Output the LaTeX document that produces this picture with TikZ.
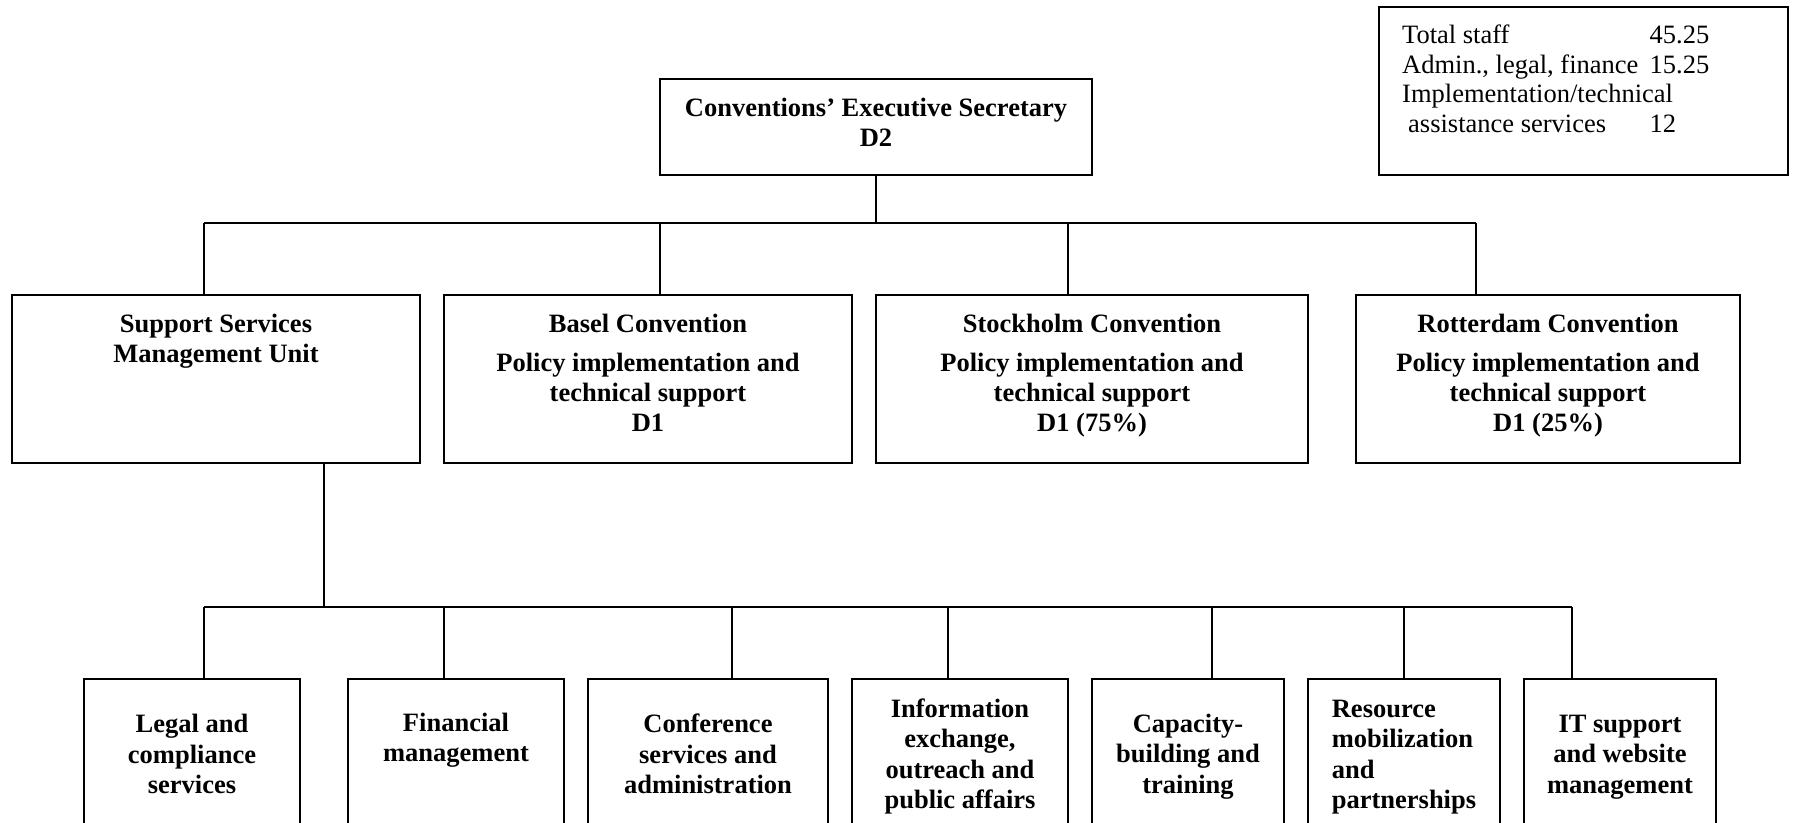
\documentclass[tikz,border=0pt]{standalone}
\usepackage{fontspec}
\setmainfont{Liberation Serif}
\newcommand\boxfont{\fontsize{26.5}{30.4}\selectfont\bfseries}
\newcommand\legfont{\fontsize{26.5}{30.4}\selectfont}
\begin{document}
\begin{tikzpicture}[x=1pt,y=-1pt,
  box/.style={draw, line width=1.6pt, inner sep=0pt},
  btxt/.style={inner sep=0pt, align=center, font=\boxfont},
  txt/.style={inner sep=0pt, anchor=base, font=\boxfont},
  leg/.style={inner sep=0pt, anchor=base west, font=\legfont},
  conn/.style={line width=1.6pt}]
\useasboundingbox (0,0) rectangle (1796,822);
\clip (0,0) rectangle (1796,822);
\fill[white] (0,0) rectangle (1796,822);

% legend
\node[box, minimum width=409pt, minimum height=168pt] (legend) at (1583.5,91) {};
\node[leg] (l1a) at (1402,43) {Total staff};
\node[leg] (l1b) at (1649.5,43) {45.25};
\node[leg] (l2a) at (1402,73) {Admin., legal, finance};
\node[leg] (l2b) at (1649.5,73) {15.25};
\node[leg] (l3a) at (1402,102) {Implementation/technical};
\node[leg] (l4a) at (1408,132) {assistance services};
\node[leg] (l4b) at (1649.5,132) {12};

% top
\node[box, minimum width=432pt, minimum height=96pt] (exec) at (876,127) {};
\node[btxt, yshift=4.5pt] (exectxt) at (exec.center) {Conventions’ Executive Secretary\\D2};

% second row
\node[box, minimum width=408pt, minimum height=168pt] (ssmu) at (216,379) {};
\node[box, minimum width=408pt, minimum height=168pt] (basel) at (648,379) {};
\node[box, minimum width=432pt, minimum height=168pt] (stock) at (1092,379) {};
\node[box, minimum width=384pt, minimum height=168pt] (rott) at (1548,379) {};

\node[txt] (ssmu1) at (216,332) {Support Services};
\node[txt] (ssmu2) at (216,362) {Management Unit};

\node[txt] (bas1) at (648,332) {Basel Convention};
\node[txt] (bas2) at (648,371) {Policy implementation and};
\node[txt] (bas3) at (648,401) {technical support};
\node[txt] (bas4) at (648,431) {D1};

\node[txt] (sto1) at (1092,332) {Stockholm Convention};
\node[txt] (sto2) at (1092,371) {Policy implementation and};
\node[txt] (sto3) at (1092,401) {technical support};
\node[txt] (sto4) at (1092,431) {D1 (75\%)};

\node[txt] (rot1) at (1548,332) {Rotterdam Convention};
\node[txt] (rot2) at (1548,371) {Policy implementation and};
\node[txt] (rot3) at (1548,401) {technical support};
\node[txt] (rot4) at (1548,431) {D1 (25\%)};

% bottom row
\node[box, minimum width=216pt, minimum height=150pt] (legal) at (192,754) {};
\node[box, minimum width=216pt, minimum height=150pt] (fin) at (456,754) {};
\node[box, minimum width=240pt, minimum height=150pt] (conf) at (708,754) {};
\node[box, minimum width=216pt, minimum height=150pt] (info) at (960,754) {};
\node[box, minimum width=192pt, minimum height=150pt] (cap) at (1188,754) {};
\node[box, minimum width=192pt, minimum height=150pt] (res) at (1404,754) {};
\node[box, minimum width=192pt, minimum height=150pt] (it) at (1620,754) {};

\node[btxt] (legaltxt) at (legal.center) {Legal and\\compliance\\services};
\node[btxt, yshift=14pt] (fintxt) at (fin.center) {Financial\\management};
\node[btxt] (conftxt) at (conf.center) {Conference\\services and\\administration};
\node[btxt, yshift=-2.5pt] (infotxt) at (info.center) {Information\\exchange,\\outreach and\\public affairs};
\node[btxt, yshift=-2.5pt] (captxt) at (cap.center) {Capacity-\\building and\\training};
\node[btxt, align=left, yshift=-3pt] (restxt) at (res.center) {Resource\\mobilization\\and\\partnerships};
\node[btxt, yshift=-3pt] (ittxt) at (it.center) {IT support\\and website\\management};

% connectors, upper level
\coordinate (busA) at (204,223);
\coordinate (busB) at (660,223);
\coordinate (busC) at (1068,223);
\coordinate (busD) at (1476,223);
\draw[conn] (exec.south) -- (exec.south |- busA);
\draw[conn] (busA) -- (busD);
\draw[conn] (busA) -- (busA |- ssmu.north);
\draw[conn] (busB) -- (busB |- basel.north);
\draw[conn] (busC) -- (busC |- stock.north);
\draw[conn] (busD) -- (busD |- rott.north);

% connectors, lower level
\coordinate (sdrop) at (324,607);
\coordinate (b1) at (204,607);
\coordinate (b2) at (444,607);
\coordinate (b3) at (732,607);
\coordinate (b4) at (948,607);
\coordinate (b5) at (1212,607);
\coordinate (b6) at (1404,607);
\coordinate (b7) at (1572,607);
\draw[conn] (sdrop |- ssmu.south) -- (sdrop);
\draw[conn] (b1) -- (b7);
\draw[conn] (b1) -- (b1 |- legal.north);
\draw[conn] (b2) -- (b2 |- fin.north);
\draw[conn] (b3) -- (b3 |- conf.north);
\draw[conn] (b4) -- (b4 |- info.north);
\draw[conn] (b5) -- (b5 |- cap.north);
\draw[conn] (b6) -- (b6 |- res.north);
\draw[conn] (b7) -- (b7 |- it.north);
\end{tikzpicture}
\end{document}
